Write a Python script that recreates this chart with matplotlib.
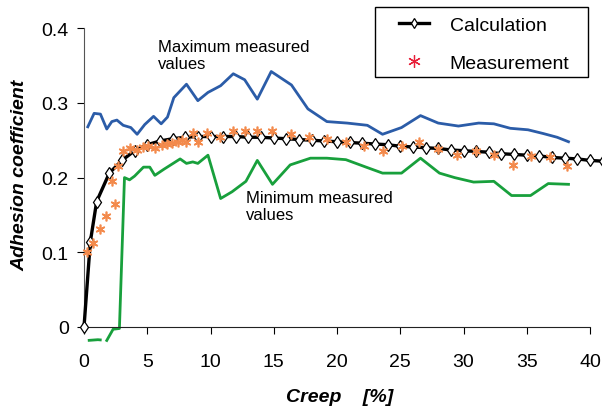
import matplotlib
matplotlib.use('Agg')
import matplotlib.pyplot as plt
from matplotlib.lines import Line2D
from matplotlib.patches import Rectangle

plt.rcParams['font.family'] = ['Liberation Sans', 'DejaVu Sans']

# calculation curve
calc_x = [0, 0.5, 1, 2, 3, 4, 5, 6, 7, 8, 9, 10, 11, 12, 13, 14, 15, 16, 17, 18, 19, 20,
          21, 22, 23, 24, 25, 26, 27, 28, 29, 30, 31, 32, 33, 34, 35, 36, 37, 38, 39, 40, 41]
calc_y = [0, 0.114, 0.168, 0.206, 0.223, 0.236, 0.244, 0.249, 0.252, 0.254, 0.255, 0.255,
          0.255, 0.255, 0.254, 0.254, 0.253, 0.252, 0.251, 0.250, 0.249, 0.248, 0.247, 0.246,
          0.245, 0.244, 0.242, 0.241, 0.240, 0.239, 0.237, 0.236, 0.235, 0.234, 0.232, 0.231,
          0.230, 0.229, 0.227, 0.226, 0.225, 0.223, 0.222]

# measurement points
meas_x = [0.26, 0.74, 1.26, 1.74, 2.19, 2.45, 2.71, 3.1, 3.64, 4.17, 4.69, 5.08, 5.61, 6.14,
          6.59, 6.93, 7.45, 7.72, 8.06, 8.59, 9.04, 9.7, 10.75, 11.75, 12.73, 13.7, 14.84,
          16.34, 17.8, 19.23, 20.7, 22.1, 23.66, 25.1, 26.5, 28.0, 29.5, 31.0, 32.4, 33.9,
          35.3, 36.8, 38.2]
meas_y = [0.100, 0.113, 0.131, 0.149, 0.196, 0.164, 0.216, 0.236, 0.239, 0.237, 0.241, 0.242,
          0.239, 0.244, 0.245, 0.246, 0.248, 0.250, 0.247, 0.260, 0.248, 0.260, 0.255, 0.262,
          0.262, 0.263, 0.263, 0.258, 0.255, 0.252, 0.248, 0.242, 0.235, 0.242, 0.248, 0.238,
          0.230, 0.235, 0.230, 0.217, 0.229, 0.227, 0.215]

# maximum measured values
max_x = [0.3, 0.8, 1.3, 1.8, 2.2, 2.6, 3.1, 3.7, 4.2, 4.8, 5.5, 6.1, 6.6, 7.1, 8.1, 9.0, 9.8,
         10.8, 11.8, 12.7, 13.7, 14.8, 16.4, 17.7, 19.2, 20.8, 22.4, 23.6, 25.1, 26.6, 28.0,
         29.6, 31.2, 32.4, 33.7, 35.1, 36.3, 37.4, 38.3]
max_y = [0.268, 0.286, 0.285, 0.265, 0.275, 0.277, 0.270, 0.267, 0.258, 0.271, 0.282, 0.272,
         0.281, 0.307, 0.325, 0.303, 0.314, 0.323, 0.339, 0.331, 0.305, 0.342, 0.324, 0.292,
         0.275, 0.273, 0.270, 0.258, 0.267, 0.283, 0.273, 0.269, 0.273, 0.272, 0.266, 0.264,
         0.259, 0.254, 0.248]

# minimum measured values (first three points drawn dashed)
min_x = [0.3, 1.1, 1.8, 2.3, 2.8, 3.2, 3.6, 4.0, 4.7, 5.2, 5.6, 6.3, 7.6, 8.1, 8.6, 9.0, 9.8,
         10.8, 11.7, 12.8, 13.7, 14.9, 16.3, 17.9, 19.2, 20.7, 22.3, 23.6, 25.1, 26.6, 28.1,
         29.3, 30.8, 32.4, 33.8, 35.3, 36.7, 38.3]
min_y = [-0.018, -0.017, -0.018, -0.003, -0.002, 0.200, 0.197, 0.202, 0.214, 0.214, 0.203,
         0.211, 0.225, 0.219, 0.221, 0.219, 0.230, 0.172, 0.181, 0.195, 0.223, 0.191, 0.217,
         0.226, 0.226, 0.224, 0.214, 0.206, 0.206, 0.226, 0.206, 0.200, 0.194, 0.195, 0.176,
         0.176, 0.192, 0.191]

xticks = [0, 5, 10, 15, 20, 25, 30, 35, 40]
yticks = [0, 0.1, 0.2, 0.3, 0.4]
ytick_labels = ['0', '0.1', '0.2', '0.3', '0.4']

blue = '#2b5ca8'
green = '#18a03c'
orange = '#f38a4c'

fig = plt.figure(figsize=(6.02, 4.14), dpi=100)
W, H = 602, 414
x0_px, px_per_x = 84, 12.65
y0_px, px_per_y = 328, 747
xmin, xmax = -0.3, 40.9
ymin, ymax = -0.03, 0.4
left = (x0_px + xmin * px_per_x) / W
width = (xmax - xmin) * px_per_x / W
top_px = y0_px - ymax * px_per_y
bot_px = y0_px - ymin * px_per_y
ax = fig.add_axes([left, 1 - bot_px / H, width, (bot_px - top_px) / H])

ax.plot(max_x, max_y, color=blue, lw=2)
ax.plot(min_x[:3], min_y[:3], color=green, lw=2, dashes=(5, 4))
ax.plot(min_x[2:], min_y[2:], color=green, lw=2)
ax.plot(calc_x, calc_y, color='black', lw=2.4, marker='d', markersize=6,
        mfc='white', mec='black', mew=0.9, zorder=3)
ax.plot(meas_x, meas_y, ls='none', marker=(6, 2, 0), markersize=7, mec=orange,
        mew=1.2, zorder=4)

ax.set_xlim(xmin, xmax)
ax.set_ylim(ymin, ymax)
for s in ['top', 'right']:
    ax.spines[s].set_visible(False)
ax.spines['bottom'].set_position(('data', 0))
ax.spines['left'].set_position(('data', 0))
ax.spines['bottom'].set_bounds(0, 40)
ax.spines['left'].set_bounds(0, 0.4)
ax.spines['bottom'].set_color('#222222')
ax.spines['left'].set_color('#555555')
ax.set_xticks(xticks)
ax.set_yticks(yticks)
ax.set_yticklabels(ytick_labels)
ax.tick_params(axis='x', direction='out', length=5, pad=14, labelsize=14)
ax.tick_params(axis='y', direction='out', length=5, pad=6, labelsize=14)
ax.patch.set_visible(False)

ax.text(5.85, 0.386, 'Maximum measured\nvalues', fontsize=12, va='top', ha='left',
        linespacing=1.2)
ax.text(12.8, 0.184, 'Minimum measured\nvalues', fontsize=12, va='top', ha='left',
        linespacing=1.2)

fig.text(340 / W, 1 - 398 / H, 'Creep    [%]', fontsize=14, fontweight='bold',
         fontstyle='italic', ha='center', va='center')
fig.text(20 / W, 1 - 175 / H, 'Adhesion coefficient', fontsize=14, fontweight='bold',
         fontstyle='italic', ha='center', va='center', rotation=90)

# legend box drawn separately so the inner spacing can follow the reference
fig.add_artist(Rectangle((375 / W, 1 - 78 / H), 213 / W, 70 / H, transform=fig.transFigure,
                         fill=False, ec='black', lw=1))
handles = [
    Line2D([], [], color='black', lw=2.4, marker='d', markersize=5, mfc='white',
           mec='black', mew=0.9),
    Line2D([], [], ls='none', marker=(6, 2, 0), markersize=9, mec='#e8203a', mew=0.9),
]
leg = fig.legend(handles, ['Calculation', 'Measurement'], loc='upper left',
                 bbox_to_anchor=(399 / W, 1 - 17 / H), borderaxespad=0, fontsize=14,
                 frameon=False, numpoints=1, handlelength=1.55, handletextpad=1.05,
                 labelspacing=1.05, borderpad=0)

fig.savefig('out.png', dpi=100)
